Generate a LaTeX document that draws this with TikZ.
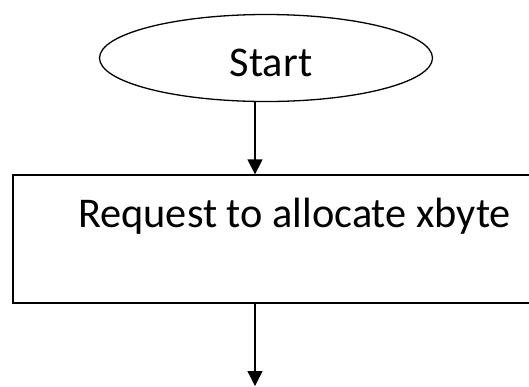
\documentclass[tikz,border=0pt]{standalone}
\usepackage{fontspec}
\setmainfont{Carlito}
\usetikzlibrary{shapes.geometric,arrows.meta}
\tikzset{
  flow/.style={line width=1.3bp, -{Triangle[width=15bp,length=15bp]}},
  terminal/.style={draw, line width=1.3bp, ellipse, minimum width=333bp, minimum height=87bp, inner sep=0pt},
  procbox/.style={draw, line width=1.3bp, rectangle, minimum width=532bp, minimum height=128bp, inner sep=0pt},
  label/.style={font=\fontsize{42.5}{50}\selectfont, inner sep=0pt, anchor=base}
}
\begin{document}
\begin{tikzpicture}[x=1bp, y=-1bp]
    \useasboundingbox (0,0) rectangle (529,386);
    \node[terminal] (start) at (266, 58) {};
    \node[label] (starttext) at (271, 76) {Start};
    \node[procbox] (req) at (279, 239) {};
    \node[label] (reqtext) at (294.5, 227) {Request to allocate xbyte};
    \coordinate (axis) at (255, 0);
    \coordinate (next) at (255, 386);
    \draw[flow] (start.south -| axis) -- (req.north -| axis);
    \draw[flow] (req.south -| axis) -- (next);
  \end{tikzpicture}
\end{document}
